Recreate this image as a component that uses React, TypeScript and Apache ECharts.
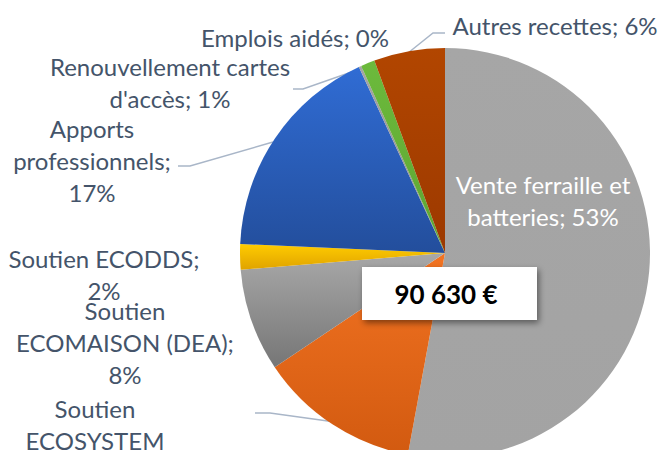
import React, { useEffect, useRef } from "react";
import * as echarts from "echarts";

const categories = [
  "Vente ferraille et batteries",
  "Soutien ECOSYSTEM",
  "Soutien ECOMAISON (DEA)",
  "Soutien ECODDS",
  "Apports professionnels",
  "Emplois aidés",
  "Renouvellement cartes d'accès",
  "Autres recettes",
];
const shares = [52.9, 12.7, 8.1, 2.0, 17.4, 0.2, 1.1, 5.6];
const wrappedNames = [
  "Vente ferraille et\nbatteries;",
  "Soutien\nECOSYSTEM",
  "Soutien\nECOMAISON (DEA);",
  "Soutien ECODDS;",
  "Apports\nprofessionnels;",
  "Emplois aidés;",
  "Renouvellement cartes\nd'accès;",
  "Autres recettes;",
];
const breakBeforeValue = [false, true, true, true, true, false, false, false];
const totalLabel = "90 630 €";

// colours: [top, bottom] of each slice's gradient
const sliceColors: [string, string][] = [
  ["#A6A6A6", "#A3A3A3"],
  ["#F27322", "#D25A10"],
  ["#A8A8A8", "#767676"],
  ["#FFCC00", "#E0A300"],
  ["#306CD4", "#234E9C"],
  ["#A5A5A5", "#8A8A8A"],
  ["#6CBA3C", "#5EA532"],
  ["#B24600", "#9C3900"],
];

// label layout: centre of the text block and leader-line points
const labelPos: { x: number; y: number; line?: number[][] }[] = [
  { x: 543, y: 200 },
  { x: 95, y: 440, line: [[335, 422], [270, 413], [255, 413]] },
  { x: 125, y: 342 },
  { x: 104, y: 274 },
  { x: 92, y: 160, line: [[273, 142], [190, 166], [178, 166]] },
  { x: 295, y: 37 },
  { x: 170, y: 82, line: [[363, 68], [303, 89], [293, 89]] },
  { x: 555, y: 25, line: [[408, 53], [433, 33], [445, 33]] },
];

const FONT = "Lato, 'Open Sans', sans-serif";
const TEXT_COLOR = "#44546A";

export default function App() {
  const ref = useRef<HTMLDivElement>(null);
  useEffect(() => {
    if (!ref.current) return;
    const chart = echarts.init(ref.current, undefined, { renderer: "svg" });
    const data = categories.map((name, i) => ({
      name,
      value: shares[i],
      itemStyle: {
        color: new echarts.graphic.LinearGradient(0, 0, 0, 1, [
          { offset: 0, color: sliceColors[i][0] },
          { offset: 1, color: sliceColors[i][1] },
        ]),
      },
      label: {
        position: i === 0 ? "inside" : "outside",
        color: i === 0 ? "#FFFFFF" : TEXT_COLOR,
      },
      labelLine: { show: !!labelPos[i].line },
    }));
    chart.setOption({
      animation: false,
      backgroundColor: "#FFFFFF",
      series: [
        {
          type: "pie",
          center: [445, 253],
          radius: 205,
          startAngle: 90,
          clockwise: true,
          avoidLabelOverlap: false,
          data,
          itemStyle: { borderWidth: 0 },
          label: {
            show: true,
            fontFamily: FONT,
            fontSize: 24,
            lineHeight: 32,
            align: "center",
            formatter: (p: any) => {
              const i = p.dataIndex;
              return `${wrappedNames[i]}${breakBeforeValue[i] ? "\n" : " "}${Math.round(p.value)}%`;
            },
          },
          labelLine: {
            show: true,
            lineStyle: { color: "#A9B6C8", width: 1.5 },
          },
          labelLayout: (params: any) => {
            const lp = labelPos[params.dataIndex];
            const out: any = {
              x: lp.x,
              y: lp.y,
              align: "center",
              verticalAlign: "middle",
            };
            if (lp.line) out.labelLinePoints = lp.line;
            return out;
          },
        },
      ],
      graphic: [
        {
          type: "rect",
          shape: { x: 362, y: 267, width: 175, height: 53 },
          style: {
            fill: "#FFFFFF",
            shadowBlur: 6,
            shadowOffsetX: 2,
            shadowOffsetY: 3,
            shadowColor: "rgba(0,0,0,0.45)",
          },
          z: 10,
        },
        {
          type: "text",
          x: 446,
          y: 294,
          style: {
            text: totalLabel,
            fontFamily: FONT,
            fontWeight: "bold",
            fontSize: 26,
            fill: "#000000",
            align: "center",
            verticalAlign: "middle",
          },
          z: 11,
        },
      ],
    });
    return () => chart.dispose();
  }, []);
  return (
    <div
      ref={ref}
      style={{ position: "absolute", left: 0, top: 0, width: 663, height: 450 }}
    />
  );
}
